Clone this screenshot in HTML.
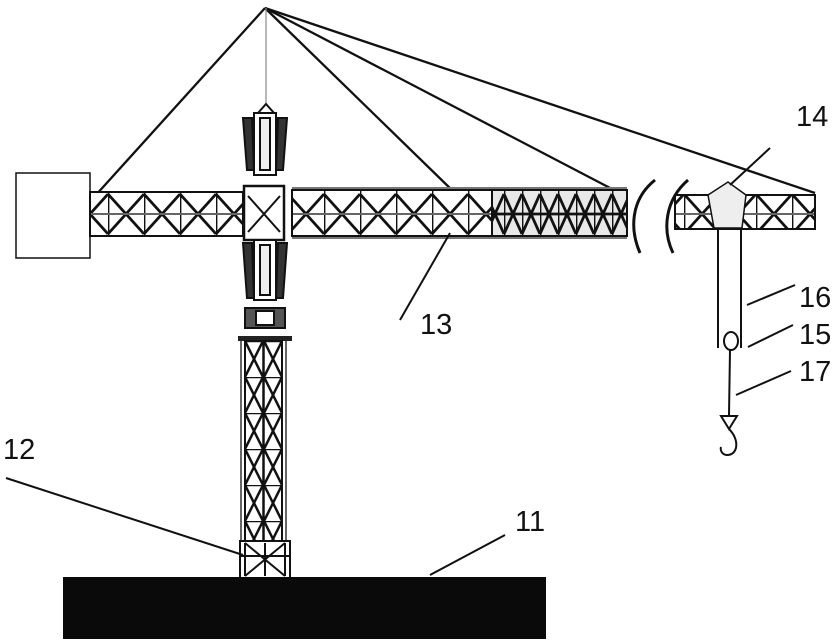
<!DOCTYPE html>
<html><head><meta charset="utf-8"><style>
html,body{margin:0;padding:0;background:#fff;}
svg{display:block}
text{font-family:"Liberation Sans",sans-serif;font-size:29px;fill:#111}
</style></head><body>
<svg width="839" height="644" viewBox="0 0 839 644" xmlns="http://www.w3.org/2000/svg">
<defs>
<pattern id="jx" x="0" y="192" width="36" height="44" patternUnits="userSpaceOnUse">
<rect width="36" height="44" fill="#fff"/>
<path d="M0 2L36 42M36 2L0 42M0 0V44" stroke="#111" stroke-width="2.8" fill="none"/>
<path d="M0 22H36" stroke="#666" stroke-width="2" fill="none"/>
</pattern>
<pattern id="jd" x="0" y="192" width="18" height="44" patternUnits="userSpaceOnUse">
<rect width="18" height="44" fill="#e8e8e8"/>
<path d="M0 2L18 42M18 2L0 42M0 0V44M0 22H18" stroke="#111" stroke-width="2.8" fill="none"/>
</pattern>
<pattern id="mx" x="245" y="341" width="37" height="36" patternUnits="userSpaceOnUse">
<rect width="37" height="36" fill="#fff"/>
<path d="M0 0L18 36M18 0L0 36M19 0L37 36M37 0L19 36M0 0H37M18.5 0V36" stroke="#111" stroke-width="2.5" fill="none"/>
</pattern>
</defs>
<g stroke="#111" stroke-width="2.3" fill="none">
<line x1="265" y1="8" x2="95" y2="196"/>
<line x1="265" y1="8" x2="455" y2="193"/>
<line x1="265" y1="8" x2="612" y2="189"/>
<line x1="265" y1="8" x2="815" y2="193"/>
<line x1="266" y1="8" x2="266" y2="108" stroke="#888" stroke-width="1.2"/>
</g>
<rect x="16" y="173" width="74" height="85" fill="#fff" stroke="#111" stroke-width="1.5"/>
<rect x="90" y="192" width="153" height="44" fill="url(#jx)" stroke="#111" stroke-width="2"/>
<rect x="292" y="190" width="200" height="46" fill="url(#jx)" stroke="#111" stroke-width="2"/>
<rect x="492" y="190" width="135" height="46" fill="url(#jd)" stroke="#111" stroke-width="2"/>
<rect x="675" y="195" width="140" height="34" fill="url(#jx)" stroke="#111" stroke-width="2"/>
<line x1="292" y1="188" x2="627" y2="188" stroke="#777" stroke-width="2"/>
<line x1="292" y1="238" x2="627" y2="238" stroke="#777" stroke-width="2"/>
<path d="M655 180C630 200 630 230 640 253M688 180C665 200 662 230 673 253" stroke="#111" stroke-width="3" fill="none"/>
<rect x="244" y="186" width="40" height="54" fill="#fff" stroke="#111" stroke-width="2.5"/>
<path d="M248 196L280 232M280 196L248 232" stroke="#111" stroke-width="2"/>
<g stroke="#111" fill="#fff" stroke-width="2">
<path d="M243 118L252 118L254 170L247 170Z" fill="#333"/>
<path d="M287 118L278 118L276 170L283 170Z" fill="#333"/>
<rect x="254" y="113" width="22" height="62"/>
<rect x="260" y="118" width="10" height="52" fill="#eee"/>
<path d="M258 113L266 104L274 113Z"/>
<path d="M243 243L252 243L254 298L247 298Z" fill="#333"/>
<path d="M287 243L278 243L276 298L283 298Z" fill="#333"/>
<rect x="254" y="240" width="22" height="60"/>
<rect x="260" y="245" width="10" height="50" fill="#eee"/>
<rect x="245" y="308" width="40" height="20" fill="#555"/>
<rect x="256" y="311" width="18" height="14"/>
</g>
<rect x="238" y="336" width="54" height="5" fill="#222"/>
<rect x="245" y="341" width="37" height="200" fill="url(#mx)" stroke="#111" stroke-width="2"/>
<line x1="241" y1="341" x2="241" y2="545" stroke="#333" stroke-width="1.5"/>
<line x1="286" y1="341" x2="286" y2="545" stroke="#333" stroke-width="1.5"/>
<rect x="240" y="541" width="50" height="37" fill="#fff" stroke="#111" stroke-width="2"/>
<path d="M245 543L285 576M285 543L245 576M245 543V576M265 543V576M285 543V576M240 556H290" stroke="#111" stroke-width="2" fill="none"/>
<rect x="63" y="577" width="483" height="62" fill="#0a0a0a"/>
<path d="M708 195L728 182L746 195L742 228L714 228Z" fill="#eee" stroke="#111" stroke-width="1.5"/>
<g stroke="#111" stroke-width="2" fill="none">
<line x1="718" y1="228" x2="718" y2="348"/>
<line x1="741" y1="228" x2="741" y2="348"/>
<ellipse cx="731" cy="341" rx="7" ry="9"/>
<line x1="730" y1="350" x2="729" y2="415"/>
<path d="M721 416L737 416L729 429Z"/>
<path d="M729 429C740 440 738 455 727 455C722 455 720 450 721 447"/>
</g>
<g stroke="#111" stroke-width="2">
<line x1="400" y1="320" x2="450" y2="233"/>
<line x1="770" y1="148" x2="730" y2="185"/>
<line x1="795" y1="285" x2="747" y2="305"/>
<line x1="793" y1="325" x2="748" y2="347"/>
<line x1="791" y1="371" x2="736" y2="395"/>
<line x1="6" y1="478" x2="243" y2="555"/>
<line x1="505" y1="535" x2="430" y2="575"/>
</g>
<text x="420" y="334">13</text>
<text x="796" y="126">14</text>
<text x="799" y="307">16</text>
<text x="799" y="344">15</text>
<text x="799" y="381">17</text>
<text x="3" y="459">12</text>
<text x="515" y="531">11</text>
</svg>
</body></html>
